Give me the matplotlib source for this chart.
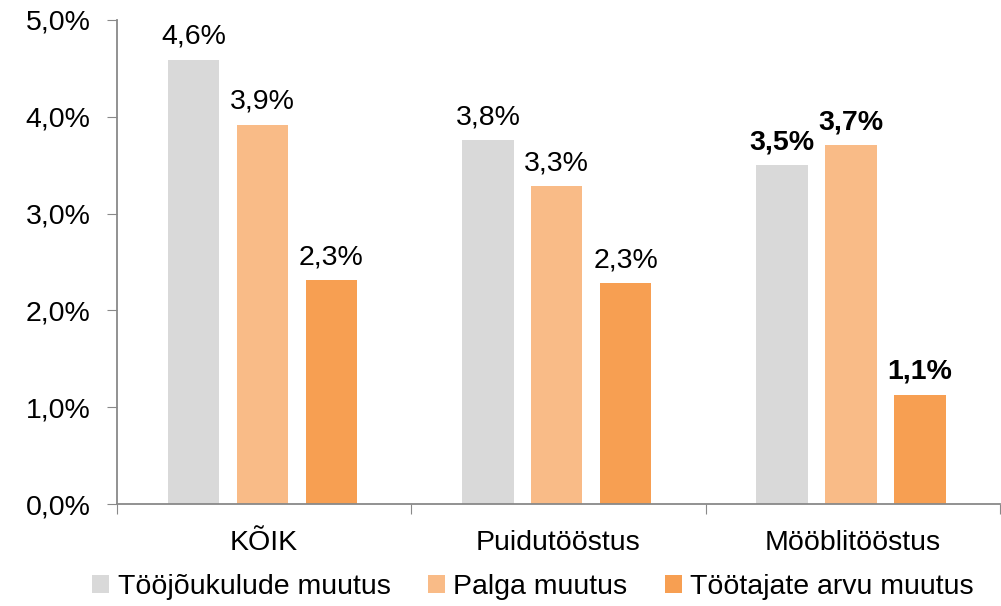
import numpy as np
import matplotlib
matplotlib.use('Agg')
import matplotlib.pyplot as plt
from matplotlib.ticker import FuncFormatter

plt.rcParams['font.family'] = ['Liberation Sans', 'DejaVu Sans']

categories = ['KÕIK', 'Puidutööstus', 'Mööblitööstus']
series_names = ['Tööjõukulude muutus', 'Palga muutus', 'Töötajate arvu muutus']
toojoukulud = [4.59, 3.76, 3.50]
palk = [3.92, 3.28, 3.71]
tootajad = [2.31, 2.28, 1.13]
series = [toojoukulud, palk, tootajad]
colors = ['#d9d9d9', '#f9bb87', '#f79f52']
bold_group = 2

fs = 20.5
fig = plt.figure(figsize=(10.01, 6.06), dpi=100)
ax = fig.add_axes([117 / 1001, 1 - 504 / 606, 883 / 1001, 484 / 606])

x = np.arange(len(categories))
width = 0.175
step = 0.234
for i, vals in enumerate(series):
    bars = ax.bar(x + (i - 1) * step - 0.006, vals, width, color=colors[i], label=series_names[i])
    for g, b in enumerate(bars):
        ax.annotate(('%.1f%%' % vals[g]).replace('.', ','),
                    (b.get_x() + b.get_width() / 2, b.get_height()),
                    xytext=(0, 7), textcoords='offset points',
                    ha='center', va='bottom', fontsize=fs,
                    fontweight='bold' if g == bold_group else 'normal')

ax.set_xlim(-0.5, 2.5)
ax.set_ylim(0, 5)
ax.set_yticks(np.arange(0, 5.01, 1))
ax.yaxis.set_major_formatter(FuncFormatter(lambda v, p: ('%.1f%%' % v).replace('.', ',')))
ax.set_xticks([-0.5, 0.5, 1.5, 2.5])
ax.set_xticklabels([])
ax.set_xticks(x, minor=True)
ax.set_xticklabels(categories, minor=True)
ax.tick_params(axis='x', which='minor', length=0, labelsize=fs, pad=19)
ax.tick_params(axis='x', which='major', length=7, color='#898989')
ax.tick_params(axis='y', length=7, color='#898989', labelsize=fs, pad=12)

for s in ['top', 'right']:
    ax.spines[s].set_visible(False)
for s in ['left', 'bottom']:
    ax.spines[s].set_color('#898989')
    ax.spines[s].set_linewidth(1.3)

fig.legend(loc='center', bbox_to_anchor=(533 / 1001, 1 - 587 / 606), ncol=3, frameon=False,
           fontsize=fs, handlelength=0.6, handleheight=0.6, handletextpad=0.3,
           columnspacing=1.3, borderpad=0)

fig.savefig('out.png', dpi=100)
